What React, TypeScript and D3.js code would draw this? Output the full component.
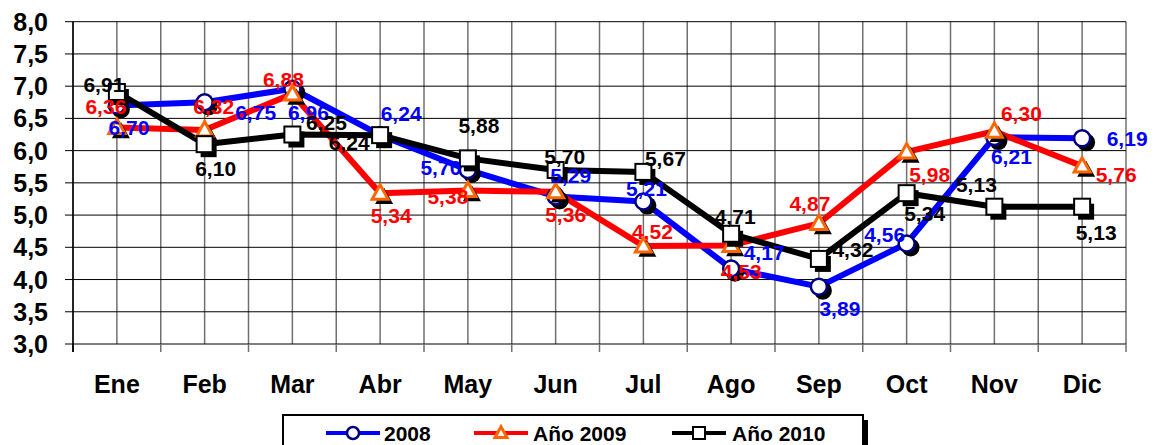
import { scaleLinear, scalePoint, line, range } from "d3";

// monthly series, three years, Excel-style line chart with value labels

const MONTHS = ["Ene", "Feb", "Mar", "Abr", "May", "Jun", "Jul", "Ago", "Sep", "Oct", "Nov", "Dic"];
const Y_TICKS = [3.0, 3.5, 4.0, 4.5, 5.0, 5.5, 6.0, 6.5, 7.0, 7.5, 8.0];

const VALUES_2008 = [6.70, 6.75, 6.96, 6.24, 5.70, 5.29, 5.21, 4.17, 3.89, 4.56, 6.21, 6.19];
const VALUES_2009 = [6.36, 6.32, 6.88, 5.34, 5.38, 5.36, 4.52, 4.53, 4.87, 5.98, 6.30, 5.76];
const VALUES_2010 = [6.91, 6.10, 6.25, 6.24, 5.88, 5.70, 5.67, 4.71, 4.32, 5.34, 5.13, 5.13];

// label offsets (label centre relative to point), placed by hand like in the original
const OFFS_2008 = [[12, 22], [51, 10], [16, 24], [21, -22], [-27, -2], [15, -21], [3, -13], [33, -16], [21, 22], [-22, -9], [17, 19], [45, 0]];
const OFFS_2009 = [[-11, -21], [9, -23], [-9, -14], [11, 22], [-20, 6], [10, 23], [9, -15], [10, 26], [-9, -20], [23, 23], [27, -18], [34, 8]];
const OFFS_2010 = [[-13, -7], [11, 24], [34, -12], [-31, 7], [11, -33], [9, -13], [22, -13], [4, -17], [34, -9], [18, 20], [-18, -22], [14, 26]];

const W = 1164;
const H = 445;
const PLOT = { left: 73, right: 1126, top: 21.7, bottom: 344 };
const FONT = "'Liberation Sans', Arial, Helvetica, sans-serif";

type Series = {
  name: string;
  values: number[];
  offs: number[][];
  color: string;
  marker: "circle" | "triangle" | "square";
};

const SERIES: Series[] = [
  { name: "2008", values: VALUES_2008, offs: OFFS_2008, color: "#0000ff", marker: "circle" },
  { name: "Año 2009", values: VALUES_2009, offs: OFFS_2009, color: "#ff0000", marker: "triangle" },
  { name: "Año 2010", values: VALUES_2010, offs: OFFS_2010, color: "#000000", marker: "square" },
];

const fmt2 = (v: number) => v.toFixed(2).replace(".", ",");
const fmt1 = (v: number) => v.toFixed(1).replace(".", ",");

const Marker = ({ kind, x, y, size, shadow }: { kind: string; x: number; y: number; size: number; shadow: boolean }) => {
  const s = size;
  if (kind === "circle") {
    return (
      <g>
        {shadow && <circle cx={x + 4} cy={y + 4} r={s + 1} fill="#000" />}
        <circle cx={x} cy={y} r={s} fill="#fff" stroke="#000080" strokeWidth={2.5} />
      </g>
    );
  }
  if (kind === "triangle") {
    const tri = (cx: number, cy: number, k: number) =>
      `M${cx},${cy - k * 1.05} L${cx + k},${cy + k * 0.75} L${cx - k},${cy + k * 0.75} Z`;
    return (
      <g>
        {shadow && <path d={tri(x + 4, y + 4, s + 1)} fill="#000" />}
        <path d={tri(x, y, s)} fill="#fff" stroke="#ff6600" strokeWidth={3} strokeLinejoin="miter" />
      </g>
    );
  }
  return (
    <g>
      {shadow && <rect x={x - s + 4} y={y - s + 5} width={2 * s} height={2 * s} fill="#000" />}
      <rect x={x - s} y={y - s} width={2 * s} height={2 * s} fill="#fff" stroke="#000" strokeWidth={2} />
    </g>
  );
};

const App = () => {
  const xScale = scalePoint<string>().domain(MONTHS).range([PLOT.left, PLOT.right]).padding(0.5);
  const yScale = scaleLinear().domain([3, 8]).range([PLOT.bottom, PLOT.top]);
  const step = xScale.step();

  const lineGen = line<number>()
    .x((_, i) => xScale(MONTHS[i]) as number)
    .y((d) => yScale(d));

  // vertical grid: category centres and boundaries
  const vLines = range(0, MONTHS.length * 2 + 1).map((k) => PLOT.left + (k * step) / 2);
  const boundaries = range(0, MONTHS.length + 1).map((k) => PLOT.left + k * step);

  const legendItems = [
    { s: SERIES[0], x1: 326, x2: 380, tx: 384 },
    { s: SERIES[1], x1: 474, x2: 528, tx: 533 },
    { s: SERIES[2], x1: 672, x2: 726, tx: 732 },
  ];
  const legY = 433;

  return (
    <svg width={W} height={H} style={{ position: "absolute", left: 0, top: 0, background: "#fff" }} fontFamily={FONT}>
      <rect x={0} y={0} width={W} height={H} fill="#fff" />

      {/* grid */}
      {vLines.map((x, i) => (
        <line key={"v" + i} x1={x} x2={x} y1={PLOT.top} y2={PLOT.bottom} stroke="#707070" strokeWidth={1.5} />
      ))}
      {Y_TICKS.map((t) => (
        <line key={"h" + t} x1={PLOT.left - 8} x2={PLOT.right} y1={yScale(t)} y2={yScale(t)} stroke="#000" strokeWidth={1} />
      ))}
      {boundaries.map((x, i) => (
        <line key={"t" + i} x1={x} x2={x} y1={PLOT.bottom} y2={PLOT.bottom + 8} stroke={i === 0 ? "#000" : "#707070"} strokeWidth={1.5} />
      ))}
      <line x1={PLOT.left} x2={PLOT.left} y1={PLOT.top} y2={PLOT.bottom + 8} stroke="#000" strokeWidth={1.5} />

      {/* y tick labels */}
      {Y_TICKS.map((t) => (
        <text key={"yl" + t} x={48} y={yScale(t)} textAnchor="end" dominantBaseline="central" fontSize={25} fontWeight="bold" fill="#000">
          {fmt1(t)}
        </text>
      ))}

      {/* x labels */}
      {MONTHS.map((m) => (
        <text key={"xl" + m} x={xScale(m)} y={384} textAnchor="middle" dominantBaseline="central" fontSize={25} fontWeight="bold" fill="#000">
          {m}
        </text>
      ))}

      {/* lines */}
      {SERIES.map((s) => (
        <path key={"l" + s.name} d={lineGen(s.values) || ""} fill="none" stroke={s.color} strokeWidth={6} strokeLinejoin="round" />
      ))}

      {/* markers */}
      {SERIES.map((s) =>
        s.values.map((v, i) => (
          <Marker key={"m" + s.name + i} kind={s.marker} x={xScale(MONTHS[i]) as number} y={yScale(v)} size={8} shadow />
        ))
      )}

      {/* value labels */}
      {SERIES.map((s) =>
        s.values.map((v, i) => (
          <text
            key={"vl" + s.name + i}
            x={(xScale(MONTHS[i]) as number) + s.offs[i][0]}
            y={yScale(v) + s.offs[i][1]}
            textAnchor="middle"
            dominantBaseline="central"
            fontSize={21}
            fontWeight="bold"
            fill={s.color}
          >
            {fmt2(v)}
          </text>
        ))
      )}

      {/* legend */}
      <rect x={288} y={420} width={580} height={40} fill="#000" />
      <rect x={283} y={415} width={580} height={40} fill="#fff" stroke="#000" strokeWidth={2} />
      {legendItems.map(({ s, x1, x2, tx }) => (
        <g key={"lg" + s.name}>
          <line x1={x1} x2={x2} y1={legY} y2={legY} stroke={s.color} strokeWidth={4} />
          <Marker kind={s.marker} x={(x1 + x2) / 2} y={legY} size={6} shadow={false} />
          <text x={tx} y={legY} dominantBaseline="central" fontSize={21} fontWeight="bold" fill="#000">
            {s.name}
          </text>
        </g>
      ))}
    </svg>
  );
};

export default App;
